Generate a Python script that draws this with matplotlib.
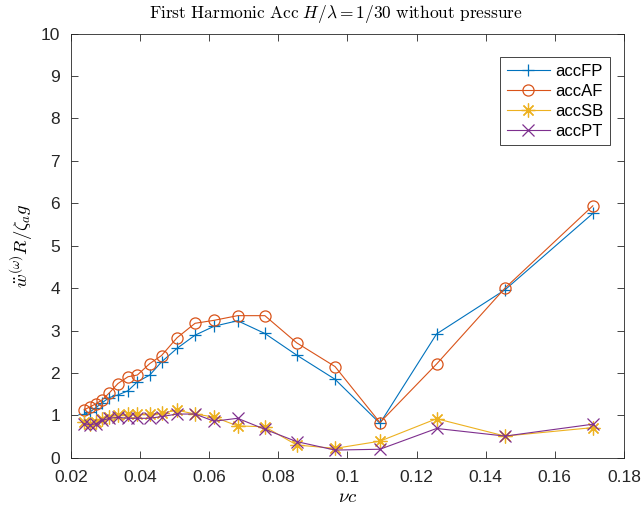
import matplotlib.pyplot as plt

plt.rcParams['font.family'] = ['Liberation Sans', 'DejaVu Sans']
plt.rcParams['mathtext.fontset'] = 'cm'

# frequency parameter nu*c
nu_c = [0.0238, 0.0255, 0.0272, 0.0291, 0.0311, 0.0336, 0.0365, 0.0392,
        0.0428, 0.0462, 0.0507, 0.0559, 0.0614, 0.0682, 0.0761, 0.0853,
        0.0964, 0.1094, 0.1258, 0.1456, 0.1710]

acc_fp = [1.02, 1.08, 1.18, 1.30, 1.42, 1.48, 1.58, 1.79, 1.95, 2.26, 2.58,
          2.89, 3.10, 3.23, 2.93, 2.42, 1.85, 0.81, 2.92, 3.96, 5.76]
acc_af = [1.13, 1.20, 1.27, 1.37, 1.53, 1.75, 1.91, 1.95, 2.22, 2.41, 2.83,
          3.17, 3.24, 3.35, 3.35, 2.71, 2.15, 0.83, 2.21, 4.00, 5.94]
acc_sb = [0.85, 0.80, 0.85, 0.92, 0.97, 1.00, 1.02, 1.02, 1.03, 1.05, 1.12,
          1.03, 0.96, 0.75, 0.73, 0.30, 0.22, 0.39, 0.92, 0.51, 0.71]
acc_pt = [0.80, 0.78, 0.80, 0.88, 0.93, 0.95, 0.93, 0.93, 0.93, 0.97, 1.03,
          1.03, 0.86, 0.93, 0.67, 0.38, 0.18, 0.20, 0.69, 0.51, 0.79]

# name, values, colour, marker, marker size
series = [
    ("accFP", acc_fp, "#0072BD", "+", 9),
    ("accAF", acc_af, "#D95319", "o", 8),
    ("accSB", acc_sb, "#EDB120", (8, 2, 0), 10),
    ("accPT", acc_pt, "#7E2F8E", "x", 8),
]

fig = plt.figure(figsize=(6.42, 5.14), dpi=100)
ax = fig.add_axes([0.1106, 0.1095, 0.8612, 0.825])

for name, vals, color, marker, ms in series:
    ax.plot(nu_c, vals, color=color, marker=marker, markersize=ms,
            markerfacecolor="none", markeredgewidth=0.9, linewidth=0.8,
            label=name)

ax.set_xlim(0.02, 0.18)
ax.set_ylim(0, 10)
ax.set_xticks([0.02, 0.04, 0.06, 0.08, 0.1, 0.12, 0.14, 0.16, 0.18])
ax.set_xticklabels(["0.02", "0.04", "0.06", "0.08", "0.1", "0.12", "0.14",
                    "0.16", "0.18"])
ax.set_yticks(range(0, 11))

ax.tick_params(direction="in", top=True, right=True, length=5, width=0.6,
               colors="#262626", labelsize=12.5)
ax.tick_params(axis="x", pad=9)
ax.tick_params(axis="y", pad=8)
for sp in ax.spines.values():
    sp.set_color("#262626")
    sp.set_linewidth(0.6)

ax.set_title(r"$\mathrm{First\ Harmonic\ Acc\ }H/\lambda=1/30"
             r"\mathrm{\ without\ pressure}$", fontsize=12.5, pad=11, x=0.48)
ax.set_xlabel(r"$\nu c$", fontsize=13.5, labelpad=3)
ax.set_ylabel(r"$\ddot{w}^{(\omega)}R/\zeta_a g$", fontsize=13.5, labelpad=4)

leg = ax.legend(loc="upper right", bbox_to_anchor=(0.99, 0.965),
                fancybox=False, framealpha=1, edgecolor="#262626",
                fontsize=12, handlelength=2.6, borderpad=0.4,
                labelspacing=0.3, handletextpad=0.3)
leg.get_frame().set_linewidth(0.6)

fig.savefig("out.png", dpi=100)
